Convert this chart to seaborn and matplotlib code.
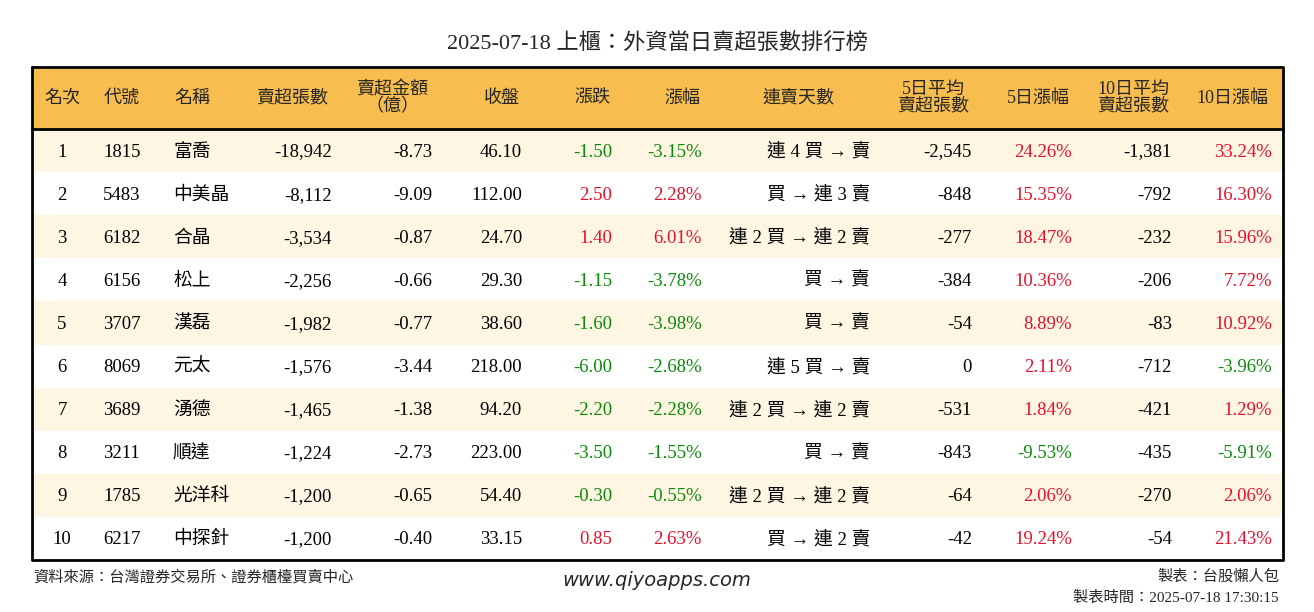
import matplotlib
matplotlib.use("Agg")
import matplotlib.pyplot as plt
import seaborn as sns

sns.set_theme(style="white")
plt.rcParams["font.family"] = ["Liberation Serif", "Noto Sans CJK TC"]

title = "2025-07-18 上櫃：外資當日賣超張數排行榜"
headers = ["名次", "代號", "名稱", "賣超張數", "賣超金額\n（億）", "收盤", "漲跌", "漲幅",
           "連賣天數", "5日平均\n賣超張數", "5日漲幅", "10日平均\n賣超張數", "10日漲幅"]
ranks = list(range(1, 11))
codes = ["1815", "5483", "6182", "6156", "3707", "8069", "3689", "3211", "1785", "6217"]
names = ["富喬", "中美晶", "合晶", "松上", "漢磊", "元太", "湧德", "順達", "光洋科", "中探針"]
sell_vol = [-18942, -8112, -3534, -2256, -1982, -1576, -1465, -1224, -1200, -1200]
sell_amt = [-8.73, -9.09, -0.87, -0.66, -0.77, -3.44, -1.38, -2.73, -0.65, -0.40]
close = [46.10, 112.00, 24.70, 29.30, 38.60, 218.00, 94.20, 223.00, 54.40, 33.15]
change = [-1.50, 2.50, 1.40, -1.15, -1.60, -6.00, -2.20, -3.50, -0.30, 0.85]
pct = [-3.15, 2.28, 6.01, -3.78, -3.98, -2.68, -2.28, -1.55, -0.55, 2.63]
streak = ["連 4 買 → 賣", "買 → 連 3 賣", "連 2 買 → 連 2 賣", "買 → 賣", "買 → 賣",
          "連 5 買 → 賣", "連 2 買 → 連 2 賣", "買 → 賣", "連 2 買 → 連 2 賣", "買 → 連 2 賣"]
avg5 = [-2545, -848, -277, -384, -54, 0, -531, -843, -64, -42]
pct5 = [24.26, 15.35, 18.47, 10.36, 8.89, 2.11, 1.84, -9.53, 2.06, 19.24]
avg10 = [-1381, -792, -232, -206, -83, -712, -421, -435, -270, -54]
pct10 = [33.24, 16.30, 15.96, 7.72, 10.92, -3.96, 1.29, -5.91, 2.06, 21.43]

W, H = 1314, 612
fig = plt.figure(figsize=(W / 100, H / 100), dpi=100)
ax = fig.add_axes([0, 0, 1, 1])
ax.set_xlim(0, W)
ax.set_ylim(H, 0)
ax.axis("off")

RED, GREEN = "#E5112B", "#0A8A0A"
def col(v):
    return RED if v > 0 else (GREEN if v < 0 else "black")

L, R, TOP, HB, BOT = 32, 1283, 67, 129, 560
rowh = (BOT - HB) / 10
ax.fill_between([L, R], TOP, HB, color="#F7BD4E", zorder=0)
for i in range(10):
    y0 = HB + i * rowh
    ax.fill_between([L, R], y0, y0 + rowh, color="#FEF5E2" if i % 2 == 0 else "white", zorder=0)
ax.plot([L, R, R, L, L], [TOP, TOP, BOT, BOT, TOP], color="black", lw=2, zorder=3)
ax.plot([L, R], [HB, HB], color="black", lw=2, zorder=3)

ax.text(W / 2, 49, title, ha="center", va="baseline", fontsize=16)

hx = [62, 122, 192, 292, 392, 502, 592, 682, 798, 933, 1038, 1133, 1232]
for x, h in zip(hx, headers):
    ax.text(x, (TOP + HB) / 2, h, ha="center", va="center", fontsize=13, linespacing=0.95)

fs = 13.5
def cell(x, y, s, ha, c="black"):
    ax.text(x, y + 6, s, ha=ha, va="baseline", fontsize=fs, color=c)

for i in range(10):
    y = HB + (i + 0.5) * rowh
    cell(62, y, str(ranks[i]), "center")
    cell(103, y, codes[i], "left")
    cell(173, y, names[i], "left")
    cell(332, y, f"{sell_vol[i]:,}", "right")
    cell(432, y, f"{sell_amt[i]:.2f}", "right")
    cell(522, y, f"{close[i]:.2f}", "right")
    cell(612, y, f"{change[i]:.2f}", "right", col(change[i]))
    cell(702, y, f"{pct[i]:.2f}%", "right", col(pct[i]))
    cell(870, y, streak[i], "right")
    cell(972, y, f"{avg5[i]:,}", "right")
    cell(1072, y, f"{pct5[i]:.2f}%", "right", col(pct5[i]))
    cell(1172, y, f"{avg10[i]:,}", "right")
    cell(1272, y, f"{pct10[i]:.2f}%", "right", col(pct10[i]))

ax.text(33, 577, "資料來源：台灣證券交易所、證券櫃檯買賣中心", ha="left", va="center", fontsize=11)
ax.text(657, 580, "www.qiyoapps.com", ha="center", va="center", fontsize=14, style="italic",
        family="DejaVu Sans")
ax.text(1279, 577, "製表：台股懶人包", ha="right", va="center", fontsize=11)
ax.text(1279, 598, "製表時間：2025-07-18 17:30:15", ha="right", va="center", fontsize=11)

fig.savefig("out.png", dpi=100)
